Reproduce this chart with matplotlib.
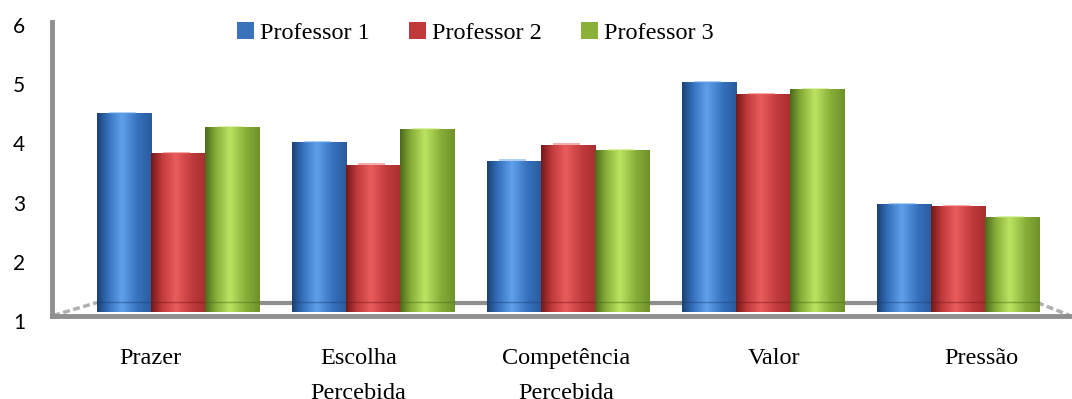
import numpy as np
import matplotlib
matplotlib.use('Agg')
import matplotlib.pyplot as plt
from matplotlib.colors import LinearSegmentedColormap
from matplotlib.patches import Patch, Rectangle
from matplotlib.transforms import ScaledTranslation

# dados
categorias = ['Prazer', 'Escolha\nPercebida', 'Competência\nPercebida', 'Valor', 'Pressão']
professores = ['Professor 1', 'Professor 2', 'Professor 3']
prof1 = [4.35, 3.86, 3.55, 4.87, 2.81]
prof2 = [3.67, 3.48, 3.82, 4.67, 2.78]
prof3 = [4.12, 4.08, 3.72, 4.76, 2.59]
yticks = [1, 2, 3, 4, 5, 6]

# tons para o efeito de cilindro: escuro, médio, claro, direita
tons = [
    ('#1a4173', '#3570bd', '#60a0ea', '#2a5b9c'),
    ('#741819', '#c03a3c', '#ea5c5c', '#a82e30'),
    ('#4b691a', '#87ad38', '#bce462', '#6f912a'),
]
cor_legenda = ['#3a72bc', '#c0393b', '#8ab23a']
cinza = '#8f8f8f'

fig = plt.figure(figsize=(10.72, 3.99), dpi=100)
ax = fig.add_axes([52 / 1072, 83 / 399, 1018 / 1072, 300 / 399])

base = 1
x = np.arange(len(categorias))
w = 0.277

for i, vals in enumerate([prof1, prof2, prof3]):
    escuro, medio, claro, direita = tons[i]
    cmap = LinearSegmentedColormap.from_list(
        'cil%d' % i, [(0, escuro), (0.2, medio), (0.45, claro), (0.75, medio), (1, direita)])
    bars = ax.bar(x + (i - 1) * w, np.array(vals) - base, w, bottom=base,
                  color=medio, zorder=3, linewidth=0)
    grad = np.linspace(0, 1, 256).reshape(1, -1)
    for b in bars:
        x0, y0 = b.get_x(), b.get_y()
        bw, bh = b.get_width(), b.get_height()
        ax.imshow(grad, extent=[x0, x0 + bw, y0, y0 + bh], cmap=cmap,
                  aspect='auto', origin='lower', interpolation='bilinear', zorder=3.5)
        # tampa e anel da base
        ax.add_patch(Rectangle((x0 + 0.22 * bw, y0 + bh), 0.5 * bw, 0.03,
                               facecolor=claro, alpha=0.5, linewidth=0, zorder=3.6))
        ax.plot([x0, x0 + bw], [1.17, 1.17], color=escuro, lw=1, alpha=0.45, zorder=3.7)

# chão em perspectiva
ax.plot([-0.415, 4.405], [1.16, 1.16], color=cinza, lw=3, zorder=1, solid_capstyle='butt')
ax.plot([-0.64, -0.415], [0.94, 1.16], color='#b0b0b0', lw=2.5, ls=(0, (2, 1)), zorder=1)
ax.plot([4.405, 4.574], [1.16, 0.94], color='#b0b0b0', lw=2.5, ls=(0, (2, 1)), zorder=1)

ax.set_xlim(-0.646, 4.574)
ax.set_ylim(0.932, 6)

for s in ['top', 'right']:
    ax.spines[s].set_visible(False)
ax.spines['left'].set_color(cinza)
ax.spines['left'].set_linewidth(3.5)
ax.spines['left'].set_bounds(0.932, 5.9)
ax.spines['bottom'].set_color(cinza)
ax.spines['bottom'].set_linewidth(3.5)

# rótulos do eixo y deslocados como no plano frontal
ax.set_yticks([])
desloc = ScaledTranslation(0, -0.11, fig.dpi_scale_trans)
for v in yticks:
    ax.text(-0.0324, v, str(v), transform=ax.get_yaxis_transform() + desloc,
            ha='center', va='center', fontsize=15, family='Lato')

xt = x + (x - 2) * 0.065 - 0.01
ax.set_xticks(xt)
ax.set_xticklabels(categorias, fontsize=17.5, family='Liberation Serif', linespacing=1.85)
ax.tick_params(axis='x', length=0, pad=23)

handles = [Patch(facecolor=c, edgecolor='none') for c in cor_legenda]
fig.legend(handles, professores, loc='center left', bbox_to_anchor=(237 / 1072, 1 - 33 / 399),
           ncol=3, frameon=False, prop={'family': 'Liberation Serif', 'size': 17.5},
           handlelength=0.7, handleheight=0.7, handletextpad=0.25, columnspacing=1.6,
           borderpad=0, borderaxespad=0)

fig.savefig('out.png', dpi=100)
